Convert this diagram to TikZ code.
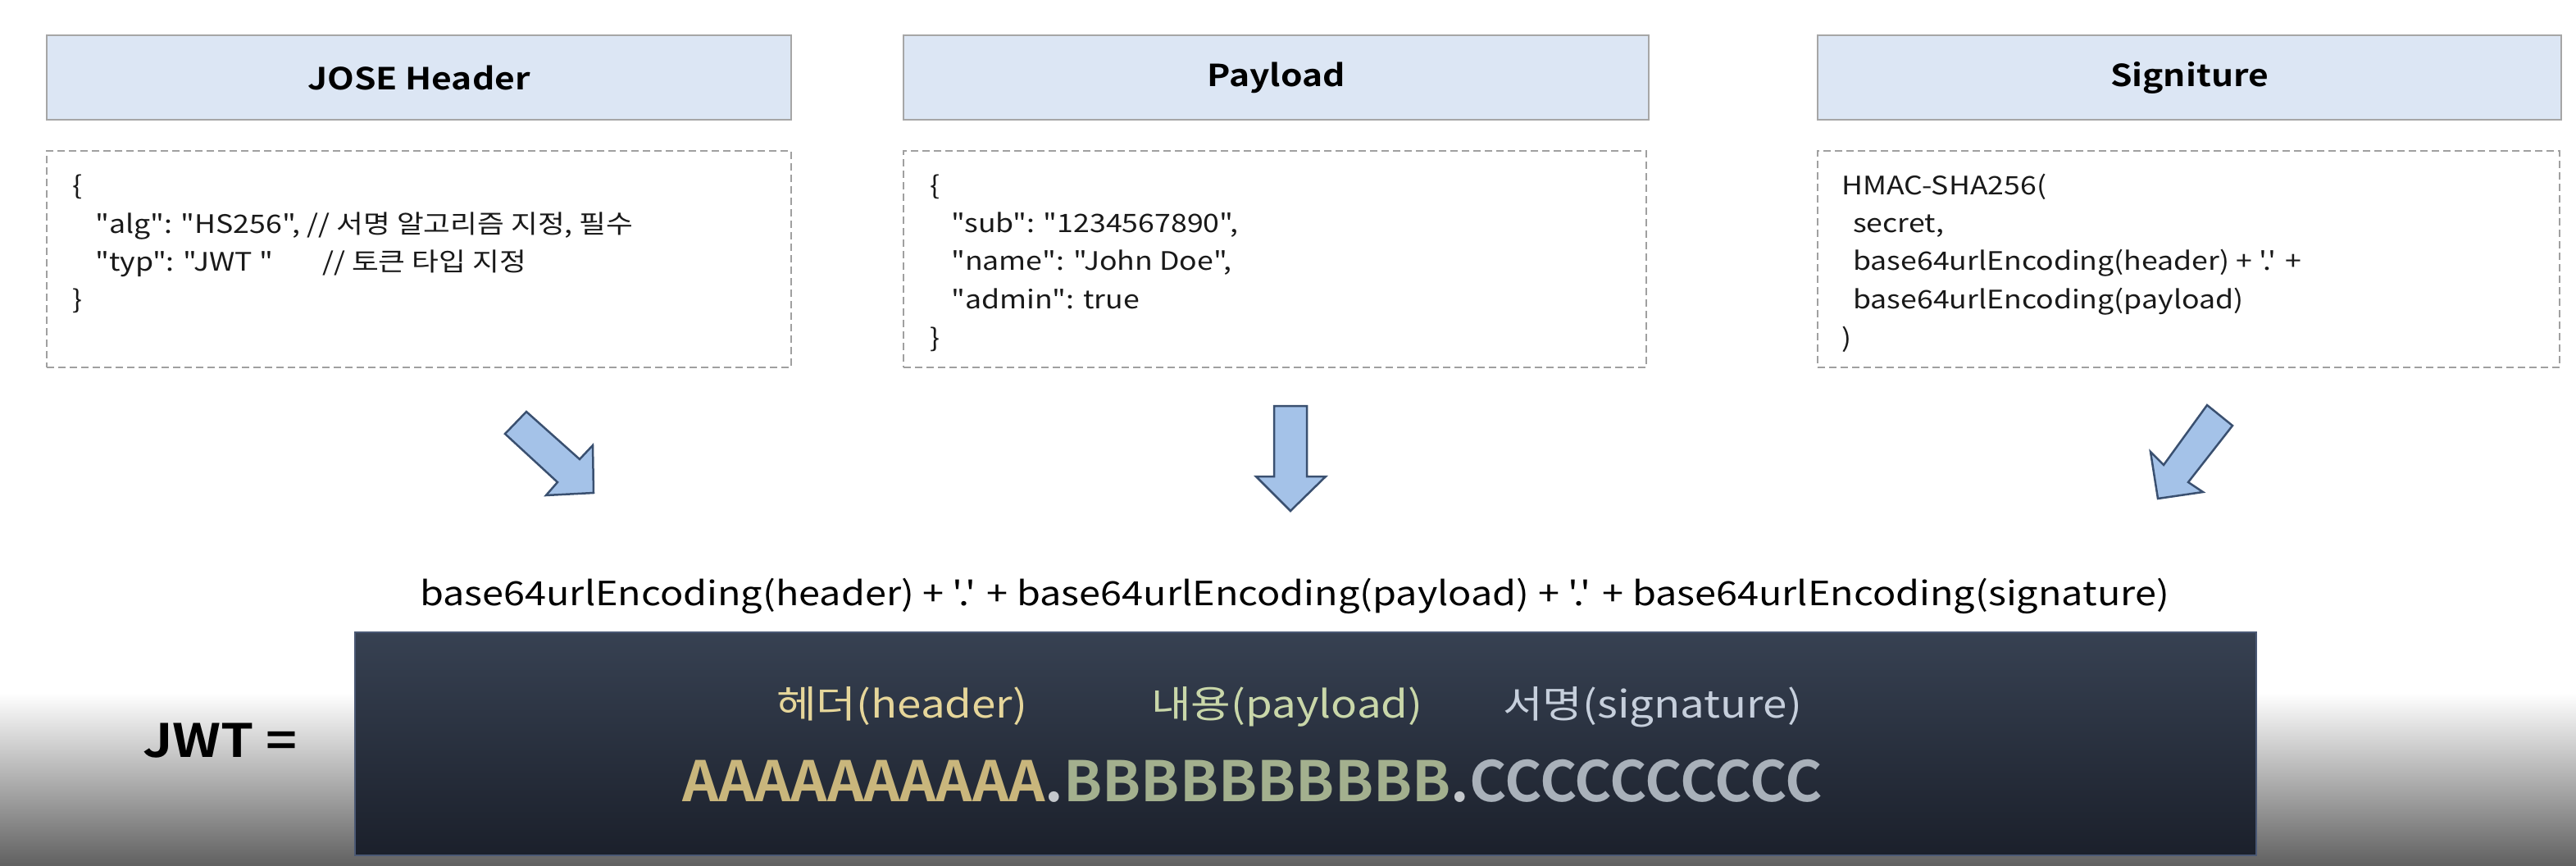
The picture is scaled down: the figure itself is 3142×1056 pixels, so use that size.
\documentclass[tikz,border=0pt]{standalone}
\usepackage{fontspec}
\newfontfamily\kr{Noto Sans CJK KR}[FakeStretch=1.15, BoldFont={Noto Sans CJK KR Bold}, BoldFeatures={FakeStretch=1.15}]
\newfontfamily\krtok{Noto Sans CJK KR Bold}[FakeStretch=1.02]
\definecolor{titlefill}{HTML}{DCE6F4}
\definecolor{titleborder}{HTML}{A6A6A6}
\definecolor{dashgray}{HTML}{A0A0A0}
\definecolor{arrowfill}{HTML}{A4C2E8}
\definecolor{arrowdraw}{HTML}{3A5070}
\definecolor{bggray}{HTML}{606060}
\definecolor{boxtop}{HTML}{374152}
\definecolor{boxbot}{HTML}{1B202B}
\definecolor{boxedge}{HTML}{4A5874}
\definecolor{hcol}{HTML}{E6D69A}
\definecolor{pcol}{HTML}{C9D7A9}
\definecolor{scol}{HTML}{C6CFDC}
\definecolor{acol}{HTML}{C9B67C}
\definecolor{bcol}{HTML}{A3B08E}
\definecolor{ccol}{HTML}{A9B1BA}
\definecolor{dotcol}{HTML}{C4C8CC}
\begin{document}
\begin{tikzpicture}[x=1pt,y=-1pt,
  title/.style={draw=titleborder, fill=titlefill, line width=2pt, inner sep=0pt,
    font=\kr\bfseries\fontsize{37}{44}\selectfont, text=black},
  dbox/.style={draw=dashgray, line width=2.5pt, dash pattern=on 9pt off 5pt, inner sep=0pt},
  code/.style={anchor=base west, inner sep=0pt, font=\kr\fontsize{31}{37}\selectfont, text=black!90},
  blockarrow/.style={fill=arrowfill, draw=arrowdraw, line width=2.5pt, line join=miter},
  darkbox/.style={draw=boxedge, line width=1.5pt, top color=boxtop, bottom color=boxbot, inner sep=0pt},
  lbl/.style={anchor=base west, inner sep=0pt, font=\kr\fontsize{46}{52}\selectfont},
]
\useasboundingbox (0,0) rectangle (3142,1056);
\fill[white] (0,0) rectangle (3142,846);
\shade[top color=white, bottom color=bggray] (0,845) rectangle (3142,1056);

% title boxes
\node[title, minimum width=908, minimum height=103] (tjose) at (511,94.5) {JOSE Header};
\node[title, minimum width=909, minimum height=103] (tpay) at (1556.5,94.5) {Payload};
\node[title, minimum width=907, minimum height=103] (tsig) at (2670.5,94.5) {Signiture};

% dashed code boxes
\node[dbox, minimum width=908, minimum height=264] (cjose) at (511,316) {};
\node[dbox, minimum width=906, minimum height=264] (cpay) at (1555,316) {};
\node[dbox, minimum width=905, minimum height=264] (csig) at (2669.5,316) {};

% JOSE code
\node[code] (j1) at (88,238) {\{};
\node[code] (j2) at (116,285) {"alg": "HS256", // 서명 알고리즘 지정, 필수};
\node[code] (j3) at (116,331) {"typ": "JWT "};
\node[code] (j3c) at (393,331) {// 토큰 타입 지정};
\node[code] (j4) at (88,377) {\}};

% Payload code
\node[code] (p1) at (1134,238) {\{};
\node[code] (p2) at (1160,284) {"sub": "1234567890",};
\node[code] (p3) at (1160,330) {"name": "John Doe",};
\node[code] (p4) at (1160,377) {"admin": true};
\node[code] (p5) at (1134,423) {\}};

% Signature code
\node[code] (s1) at (2246,238) {HMAC-SHA256(};
\node[code] (s2) at (2260,284) {secret,};
\node[code] (s3) at (2260,330) {base64urlEncoding(header) + '.' +};
\node[code] (s4) at (2260,377) {base64urlEncoding(payload)};
\node[code] (s5) at (2246,423) {)};

% block arrows
\draw[blockarrow] (616,529) -- (642,502) -- (707,560) -- (723,543) -- (724,601) -- (666,604) -- (680,588) -- cycle;
\draw[blockarrow] (1554,495) -- (1594,495) -- (1594,581) -- (1617,581) -- (1574,623) -- (1532,581) -- (1554,581) -- cycle;
\draw[blockarrow] (2692,494) -- (2723,519) -- (2669,588) -- (2687,600) -- (2632,608) -- (2623,551) -- (2639,567) -- cycle;

% formula
\node[anchor=base, inner sep=0pt, font=\kr\fontsize{40.7}{46}\selectfont, text=black] (formula) at (1579,738)
  {base64urlEncoding(header) + '.' + base64urlEncoding(payload) + '.' + base64urlEncoding(signature)};

% JWT label
\node[anchor=base west, inner sep=0pt, font=\kr\bfseries\fontsize{56}{64}\selectfont, text=black] (jwt) at (174,923) {JWT =};

% dark box
\node[darkbox, minimum width=2319, minimum height=272] (jwtbox) at (1592.5,907) {};

\node[lbl, text=hcol] (lh) at (947,875) {헤더(header)};
\node[lbl, text=pcol] (lp) at (1404,875) {내용(payload)};
\node[lbl, text=scol] (ls) at (1833,875) {서명(signature)};

\node[anchor=base west, inner sep=0pt, font=\krtok\fontsize{68}{76}\selectfont] (token) at (832,977)
  {\textcolor{acol}{AAAAAAAAAA}\textcolor{dotcol}{.}\textcolor{bcol}{BBBBBBBBBB}\textcolor{dotcol}{.}\textcolor{ccol}{CCCCCCCCCC}};
\end{tikzpicture}
\end{document}
